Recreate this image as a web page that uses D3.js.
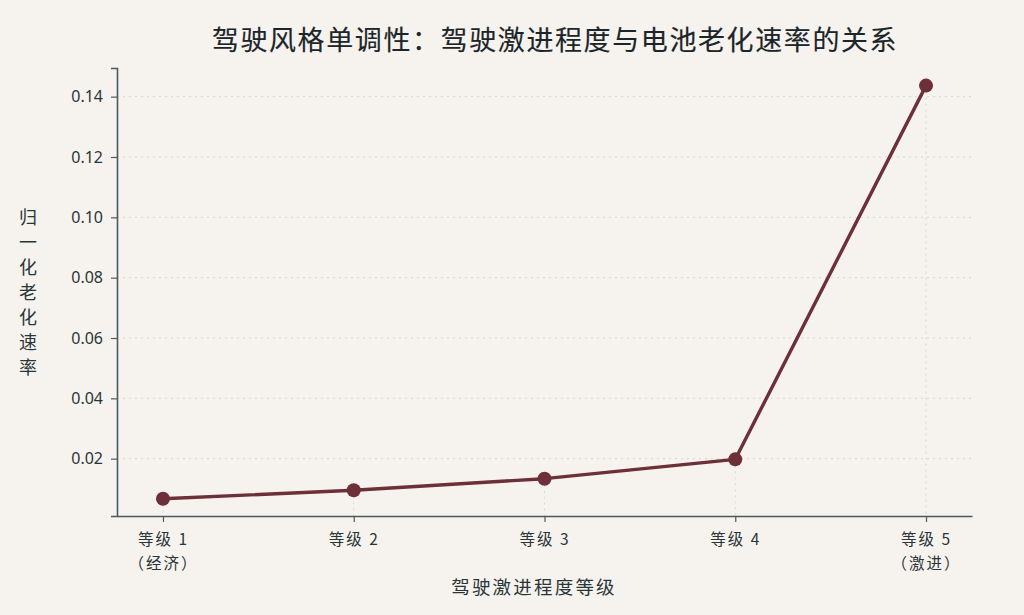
<!DOCTYPE html>
<html>
<head>
<meta charset="utf-8">
<script src="https://cdn.jsdelivr.net/npm/d3@7"></script>
<style>
  html, body { margin: 0; padding: 0; background: #f6f3ee; }
  svg { display: block; font-family: "Noto Sans CJK SC", "Noto Sans", sans-serif; }
</style>
</head>
<body>
<div id="chart"></div>
<script>
// data
const levels = ["等级 1", "等级 2", "等级 3", "等级 4", "等级 5"];
const levelNotes = ["（经济）", "", "", "", "（激进）"];
const agingRate = [0.00674, 0.00952, 0.01337, 0.01978, 0.14366];
const yTicks = [0.02, 0.04, 0.06, 0.08, 0.10, 0.12, 0.14];

const W = 1024, H = 615;
const margin = {top: 68, right: 52, bottom: 99, left: 117};
const width = W - margin.left - margin.right;
const height = H - margin.top - margin.bottom;

const axisColor = "#4b5a5f";
const textColor = "#2a3539";
const lineColor = "#6d2f38";

let xScale = d3.scalePoint().domain(levels).range([0, width]).padding(0.241);
let yScale = d3.scaleLinear().domain([0.001, 0.1495]).range([height, 0]);

let svg = d3.select("#chart").append("svg")
    .attr("width", W)
    .attr("height", H);

svg.append("rect").attr("width", W).attr("height", H).attr("fill", "#f6f3ee");

// title
svg.append("text")
    .attr("x", 555)
    .attr("y", 50)
    .attr("text-anchor", "middle")
    .attr("font-size", 27)
    .attr("fill", "#1c2529")
    .attr("stroke", "#1c2529")
    .attr("stroke-width", 0.15)
    .attr("letter-spacing", 1.6)
    .text("驾驶风格单调性：驾驶激进程度与电池老化速率的关系");

let g = svg.append("g")
    .attr("transform", "translate(" + margin.left + "," + margin.top + ")");

// horizontal grid
g.append("g")
    .selectAll("line")
    .data(yTicks)
    .join("line")
    .attr("x1", 0)
    .attr("x2", width)
    .attr("y1", d => yScale(d))
    .attr("y2", d => yScale(d))
    .attr("stroke", "#d9d5cf")
    .attr("stroke-width", 1)
    .attr("stroke-dasharray", "2,4");

// drop lines from points to the x axis
g.append("g")
    .selectAll("line")
    .data(levels)
    .join("line")
    .attr("x1", d => xScale(d))
    .attr("x2", d => xScale(d))
    .attr("y1", (d, i) => yScale(agingRate[i]))
    .attr("y2", height)
    .attr("stroke", "#d9d5cf")
    .attr("stroke-width", 1)
    .attr("stroke-dasharray", "2,4");

// y axis
let yAxis = g.append("g")
    .call(d3.axisLeft(yScale).tickValues(yTicks).tickFormat(d3.format(".2f")).tickSize(6).tickPadding(8));
yAxis.select(".domain").attr("stroke", axisColor).attr("stroke-width", 1.6);
yAxis.selectAll(".tick line").attr("stroke", axisColor).attr("stroke-width", 1.2);
yAxis.selectAll(".tick text")
    .attr("font-size", 16)
    .attr("fill", textColor)
    .attr("font-family", "'Noto Sans', sans-serif");

// x axis
let xAxis = g.append("g")
    .attr("transform", "translate(0," + height + ")")
    .call(d3.axisBottom(xScale).tickSize(6).tickSizeOuter(0).tickFormat(""));
xAxis.select(".domain").attr("stroke", axisColor).attr("stroke-width", 1.6);
xAxis.selectAll(".tick line").attr("stroke", axisColor).attr("stroke-width", 1.2);

let xLabels = xAxis.selectAll(".tick").append("text")
    .attr("text-anchor", "middle")
    .attr("fill", textColor)
    .attr("font-size", 15.5)
    .attr("font-family", "'Noto Sans CJK SC', sans-serif")
    .attr("letter-spacing", 2);
xLabels.append("tspan").attr("x", 0).attr("y", 29).text(d => d);
xLabels.append("tspan").attr("x", 0).attr("y", 53).text((d, i) => levelNotes[i]);

// axis titles
svg.append("text")
    .attr("x", 534)
    .attr("y", 594)
    .attr("text-anchor", "middle")
    .attr("font-size", 18.5)
    .attr("letter-spacing", 2.2)
    .attr("fill", textColor)
    .text("驾驶激进程度等级");

let yTitle = "归一化老化速率".split("");
svg.append("g")
    .selectAll("text")
    .data(yTitle)
    .join("text")
    .attr("x", 28)
    .attr("y", (d, i) => 224 + i * 25)
    .attr("text-anchor", "middle")
    .attr("font-size", 18)
    .attr("fill", textColor)
    .text(d => d);

// line + markers
let line = d3.line()
    .x((d, i) => xScale(levels[i]))
    .y(d => yScale(d));

g.append("path")
    .datum(agingRate)
    .attr("fill", "none")
    .attr("stroke", lineColor)
    .attr("stroke-width", 3.4)
    .attr("stroke-linejoin", "round")
    .attr("d", line);

g.append("g")
    .selectAll("circle")
    .data(agingRate)
    .join("circle")
    .attr("cx", (d, i) => xScale(levels[i]))
    .attr("cy", d => yScale(d))
    .attr("r", 7)
    .attr("fill", lineColor);
</script>
</body>
</html>
